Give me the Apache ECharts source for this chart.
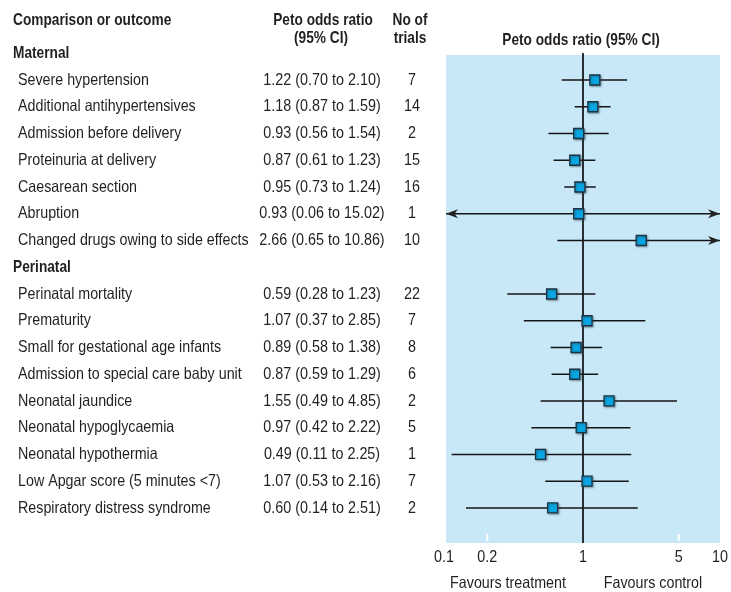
<!DOCTYPE html>
<html>
<head>
<meta charset="utf-8">
<script src="https://cdn.jsdelivr.net/npm/echarts@6/dist/echarts.min.js"></script>
<style>
  html, body { margin: 0; padding: 0; background: #ffffff; }
  #chart { width: 731px; height: 592px; }
</style>
</head>
<body>
<div id="chart"></div>
<script>
// Outcomes, grouped by section
const maternalOutcomes = [
  'Severe hypertension',
  'Additional antihypertensives',
  'Admission before delivery',
  'Proteinuria at delivery',
  'Caesarean section',
  'Abruption',
  'Changed drugs owing to side effects'
];
const maternalOR   = [1.22, 1.18, 0.93, 0.87, 0.95, 0.93, 2.66];
const maternalLow  = [0.70, 0.87, 0.56, 0.61, 0.73, 0.06, 0.65];
const maternalHigh = [2.10, 1.59, 1.54, 1.23, 1.24, 15.02, 10.86];
const maternalTrials = [7, 14, 2, 15, 16, 1, 10];

const perinatalOutcomes = [
  'Perinatal mortality',
  'Prematurity',
  'Small for gestational age infants',
  'Admission to special care baby unit',
  'Neonatal jaundice',
  'Neonatal hypoglycaemia',
  'Neonatal hypothermia',
  'Low Apgar score (5 minutes <7)',
  'Respiratory distress syndrome'
];
const perinatalOR   = [0.59, 1.07, 0.89, 0.87, 1.55, 0.97, 0.49, 1.07, 0.60];
const perinatalLow  = [0.28, 0.37, 0.58, 0.59, 0.49, 0.42, 0.11, 0.53, 0.14];
const perinatalHigh = [1.23, 2.85, 1.38, 1.29, 4.85, 2.22, 2.25, 2.16, 2.51];
const perinatalTrials = [22, 7, 8, 6, 2, 5, 1, 7, 2];

const sectionNames = ['Maternal', 'Perinatal'];
const xTicks = [0.1, 0.2, 1, 5, 10];
const xMin = 0.1, xMax = 10;

// Condensed look: regular sans squeezed horizontally
const FONT = '"Liberation Sans", Arial, sans-serif';
const FS = 16.5;
const SQUEEZE = 0.865;
const SQUEEZE_NUM = 0.87;
const SQUEEZE_BOLD = 0.83;
const TEXT = '#231f20';

// Build rows: each section header takes one row, followed by its outcomes
const rows = [];
const headers = [];
let r = -1;
function addSection(name, outs, or, lo, hi, n) {
  headers.push({ name: name, row: r });
  r++;
  outs.forEach(function (o, i) {
    rows.push({ name: o, or: or[i], lo: lo[i], hi: hi[i], n: n[i], row: r });
    r++;
  });
}
addSection(sectionNames[0], maternalOutcomes, maternalOR, maternalLow, maternalHigh, maternalTrials);
addSection(sectionNames[1], perinatalOutcomes, perinatalOR, perinatalLow, perinatalHigh, perinatalTrials);

const yMin = -0.935, yMax = 17.31;

function fmt(v) { return v.toFixed(2); }

// text element anchored at (x, y), squeezed around its anchor
function label(text, x, y, opts) {
  opts = opts || {};
  const sx = opts.bold ? SQUEEZE_BOLD : (opts.num ? SQUEEZE_NUM : SQUEEZE);
  return {
    type: 'text', x: x, y: y, scaleX: sx, scaleY: 1,
    style: {
      text: text, x: 0, y: 0,
      font: (opts.bold ? 'bold ' : '') + FS + 'px ' + FONT,
      fill: TEXT, align: opts.align || 'left', verticalAlign: 'middle'
    },
    z2: 10
  };
}

const chart = echarts.init(document.getElementById('chart'), null, { renderer: 'canvas' });

function arrowHead(tipX, y, dir) {
  // dir: -1 points left, +1 points right
  const L = 12, W = 4.5, notch = 3.5;
  return {
    type: 'polygon',
    shape: { points: [
      [tipX, y],
      [tipX - dir * L, y - W],
      [tipX - dir * (L - notch), y],
      [tipX - dir * L, y + W]
    ] },
    style: { fill: '#222222' },
    z2: 5
  };
}

const option = {
  animation: false,
  grid: {
    left: 446, right: 11, top: 55, bottom: 49,
    show: true, backgroundColor: '#c8e8f8', borderWidth: 0
  },
  xAxis: {
    type: 'log', logBase: 10, min: xMin, max: xMax,
    axisLine: { show: false }, axisTick: { show: false },
    axisLabel: { show: false }, splitLine: { show: false }
  },
  yAxis: {
    type: 'value', min: yMin, max: yMax, inverse: true,
    axisLine: { show: false }, axisTick: { show: false },
    axisLabel: { show: false }, splitLine: { show: false }
  },
  graphic: [
    label('Comparison or outcome', 13, 20, { bold: true }),
    label('Peto odds ratio', 323, 20, { bold: true, align: 'center' }),
    label('(95% CI)', 321, 38, { bold: true, align: 'center' }),
    label('No of', 410, 20, { bold: true, align: 'center' }),
    label('trials', 410, 38, { bold: true, align: 'center' }),
    label('Peto odds ratio (95% CI)', 581, 40, { bold: true, align: 'center' }),
    label('Favours treatment', 508, 583, { align: 'center' }),
    label('Favours control', 653, 583, { align: 'center' })
  ],
  series: [
    {
      // vertical line of no effect
      type: 'custom', clip: false, data: [[1]],
      renderItem: function (params, api) {
        const a = api.coord([1, yMin]);
        const b = api.coord([1, yMax]);
        return { type: 'line', shape: { x1: a[0], y1: a[1] - 2, x2: b[0], y2: b[1] },
          style: { stroke: '#000000', lineWidth: 1.6 }, z2: 3 };
      }
    },
    {
      // x axis tick labels and small ticks inside the plot
      type: 'custom', clip: false, data: xTicks.map(function (v) { return [v]; }),
      renderItem: function (params, api) {
        const v = api.value(0);
        const p = api.coord([v, yMax]);
        const children = [label(String(v), p[0] - (v === xMin ? 2 : 0), p[1] + 14, { align: 'center', num: true })];
        if (v !== 1 && v !== xMin && v !== xMax) {
          children.push({ type: 'line', shape: { x1: p[0], y1: p[1] - 9, x2: p[0], y2: p[1] - 2 },
            style: { stroke: '#ffffff', lineWidth: 2 } });
        }
        return { type: 'group', children: children };
      }
    },
    {
      // section headers
      type: 'custom', clip: false,
      data: headers.map(function (h) { return [1, h.row]; }),
      renderItem: function (params, api) {
        const p = api.coord([1, api.value(1)]);
        return label(headers[params.dataIndex].name, 13, p[1], { bold: true });
      }
    },
    {
      // outcome rows: labels, estimate text, trials, CI line and square
      type: 'custom', clip: false,
      data: rows.map(function (d) { return [d.or, d.row, d.lo, d.hi, d.n]; }),
      renderItem: function (params, api) {
        const d = rows[params.dataIndex];
        const c = api.coord([api.value(0), api.value(1)]);
        const y = c[1];
        const lo = api.value(2), hi = api.value(3);
        const xl = api.coord([Math.max(lo, xMin), api.value(1)])[0];
        const xr = api.coord([Math.min(hi, xMax), api.value(1)])[0];
        const children = [
          label(d.name, 18, y),
          label(fmt(d.or) + ' (' + fmt(lo) + ' to ' + fmt(hi) + ')', 322, y, { align: 'center', num: true }),
          label(String(d.n), 412, y, { align: 'center', num: true }),
          { type: 'line', shape: { x1: xl, y1: y, x2: xr, y2: y }, style: { stroke: '#151515', lineWidth: 1.5 }, z2: 4 }
        ];
        if (lo < xMin) children.push(arrowHead(xl, y, -1));
        if (hi > xMax) children.push(arrowHead(xr, y, 1));
        children.push({
          type: 'rect', shape: { x: c[0] - 5, y: y - 5, width: 10, height: 10 },
          style: { fill: '#09a6e4', stroke: '#1c3442', lineWidth: 1.3,
            shadowBlur: 2, shadowColor: 'rgba(40,60,70,0.45)', shadowOffsetX: 1, shadowOffsetY: 1 },
          z2: 6
        });
        return { type: 'group', children: children };
      }
    }
  ]
};

chart.setOption(option);
</script>
</body>
</html>
